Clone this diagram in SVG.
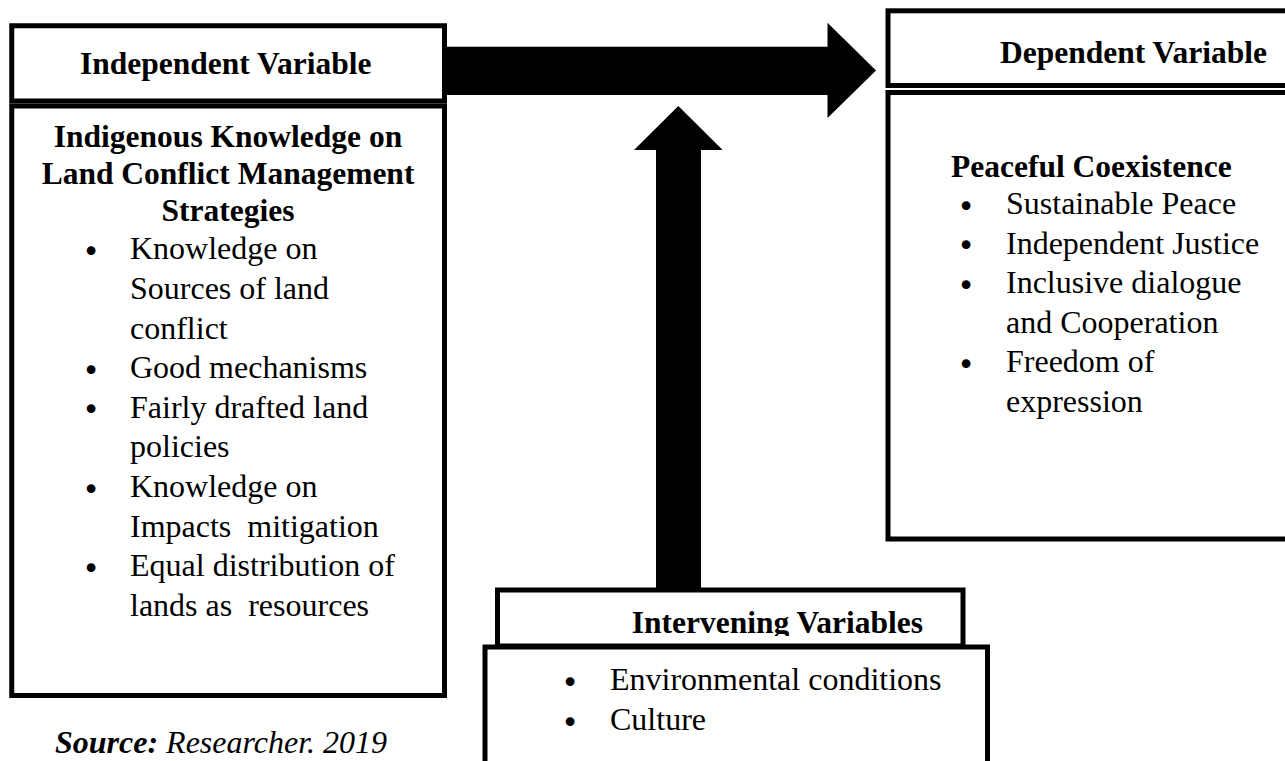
<svg xmlns="http://www.w3.org/2000/svg" width="1285" height="761" viewBox="0 0 1285 761">
<style>
.box{fill:#fff;stroke:#000;stroke-width:5;stroke-linejoin:miter}
.hd{font-family:"Liberation Serif","Times New Roman",serif;font-weight:bold;font-size:31.5px;fill:#000}
.bt{font-family:"Liberation Serif","Times New Roman",serif;font-size:32px;fill:#000;white-space:pre}
.bl{font-family:"DejaVu Sans",sans-serif;font-size:30px;fill:#000;text-anchor:middle}
.arr{fill:#000}
</style>
<defs>
<clipPath id="ivclip"><rect x="500" y="592" width="460" height="44"/></clipPath>
</defs>
<rect width="1285" height="761" fill="#fff"/>
<g id="connectors">
<polygon class="arr" points="440,46.7 827.5,46.7 827.5,22.7 876,70.5 827.5,118 827.5,95 440,95"/>
<polygon class="arr" points="656,600 656,150 634,150 678.3,106 722.7,150 701,150 701,600"/>
</g>
<g id="independent">
<rect class="box" x="11.75" y="25.75" width="432.75" height="75.25"/>
<text class="hd" x="80" y="74.3">Independent Variable</text>
<rect class="box" x="11.75" y="106" width="432.75" height="589.5"/>
<text class="hd" x="228" y="146.7" text-anchor="middle" font-size="32">Indigenous Knowledge on</text>
<text class="hd" x="228" y="184.3" text-anchor="middle" font-size="32">Land Conflict Management</text>
<text class="hd" x="228" y="220.5" text-anchor="middle" font-size="32">Strategies</text>
<text class="bl" x="91" y="262">•</text>
<text class="bt" x="130" y="259.3">Knowledge on</text>
<text class="bt" x="130" y="298.9">Sources of land</text>
<text class="bt" x="130" y="338.5">conflict</text>
<text class="bl" x="91" y="380.8">•</text>
<text class="bt" x="130" y="378.1">Good mechanisms</text>
<text class="bl" x="91" y="420.4">•</text>
<text class="bt" x="130" y="417.7">Fairly drafted land</text>
<text class="bt" x="130" y="457.3">policies</text>
<text class="bl" x="91" y="499.6">•</text>
<text class="bt" x="130" y="496.9">Knowledge on</text>
<text class="bt" x="130" y="536.5">Impacts  mitigation</text>
<text class="bl" x="91" y="578.8">•</text>
<text class="bt" x="130" y="576.1">Equal distribution of</text>
<text class="bt" x="130" y="615.7">lands as  resources</text>
</g>
<g id="dependent">
<rect class="box" x="888" y="10.8" width="420" height="74.7"/>
<text class="hd" x="1000" y="63.3">Dependent Variable</text>
<rect class="box" x="888" y="92.5" width="420" height="446.5"/>
<text class="hd" x="951" y="177.3">Peaceful Coexistence</text>
<text class="bl" x="966" y="216.7">•</text>
<text class="bt" x="1006" y="214">Sustainable Peace</text>
<text class="bl" x="966" y="256.2">•</text>
<text class="bt" x="1006" y="253.5">Independent Justice</text>
<text class="bl" x="966" y="295.7">•</text>
<text class="bt" x="1006" y="293">Inclusive dialogue</text>
<text class="bt" x="1006" y="332.5">and Cooperation</text>
<text class="bl" x="966" y="374.7">•</text>
<text class="bt" x="1006" y="372">Freedom of</text>
<text class="bt" x="1006" y="411.5">expression</text>
</g>
<g id="intervening">
<rect class="box" x="497.5" y="590" width="465.5" height="56"/>
<text class="hd" x="631.7" y="633" clip-path="url(#ivclip)">Intervening Variables</text>
<rect class="box" x="485" y="647" width="502.5" height="140"/>
<text class="bl" x="570" y="692.7">•</text>
<text class="bt" x="610" y="690">Environmental conditions</text>
<text class="bl" x="570" y="732.7">•</text>
<text class="bt" x="610" y="730">Culture</text>
</g>
<g id="source">
<text class="bt" x="55" y="753" font-style="italic"><tspan font-weight="bold">Source:</tspan> Researcher. 2019</text>
</g>
</svg>
